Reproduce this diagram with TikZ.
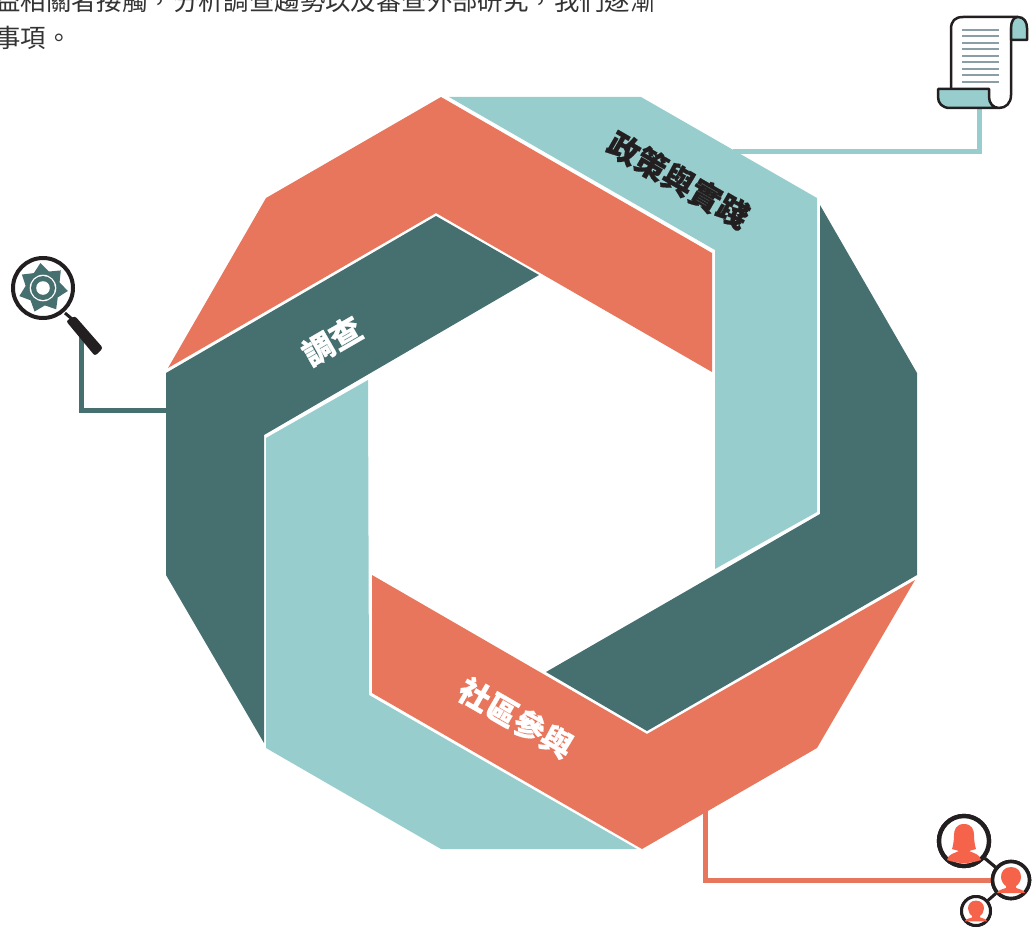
\documentclass[tikz,border=0pt]{standalone}
\usepackage{fontspec}
\usepackage{xcolor}
\newfontfamily\cjk[BoldFeatures={FakeBold=0.5}]{Noto Sans CJK TC}
\definecolor{slateband}{HTML}{466F70}
\definecolor{paleband}{HTML}{98CDCD}
\definecolor{coralband}{HTML}{E8765C}
\definecolor{coralicon}{HTML}{F4634A}
\definecolor{inkline}{HTML}{231F20}
\definecolor{rulegrey}{HTML}{8A9EA5}
\usetikzlibrary{positioning}
\tikzset{
    bodytext/.style={anchor=base west, inner sep=0pt, text=black!80, font=\cjk\fontsize{25.4}{30}\selectfont},
    bandlabel/.style={inner sep=0pt, font=\cjk\bfseries\fontsize{31.5}{34}\selectfont},
    feeder/.style={line width=5pt},
    ringnode/.style={circle, draw=inkline, fill=white, inner sep=0pt},
}
\newcommand{\headshape}{(0,-13) .. controls (7,-13) and (10,-8) .. (10,-3) .. controls (10,1) and (7,5) .. (5,6) -- (5,8) .. controls (8,9) and (13,10) .. (14,13) -- (-14,13) .. controls (-13,10) and (-8,9) .. (-5,8) -- (-5,6) .. controls (-7,5) and (-10,1) .. (-10,-3) .. controls (-10,-8) and (-7,-13) .. (0,-13) -- cycle}
\begin{document}
\begin{tikzpicture}[x=1pt, y=-1pt]
    \useasboundingbox (0,0) rectangle (1035,931);

    \node[bodytext] (lineone) at (-5,11) {益相關者接觸，分析調查趨勢以及審查外部研究，我們逐漸};
    \node[bodytext] (linetwo) at (-5,47.5) {事項。};

    % connectors go first, the bands and icons sit on top
    \coordinate (slatefoot) at (170,410);
    \coordinate (lenshook) at (81,335);
    \coordinate (palefoot) at (733,151);
    \coordinate (scrollhook) at (979,105);
    \coordinate (coralfoot) at (705,805);
    \node[ringnode, line width=3.6pt, minimum size=37pt] (midface) at (1011,880) {};
    \draw[feeder, slateband] (slatefoot) -| (lenshook);
    \draw[feeder, paleband] (palefoot) -| (scrollhook);
    \draw[feeder, coralband] (coralfoot) |- (midface);

    % bands
    \fill[coralband] (441,97) -- (712,253) -- (712,372) -- (436,213) -- (168,368) -- (266,198) -- cycle;
    \fill[paleband] (449,97) -- (641,97) -- (817,198) -- (817,512) -- (715,569) -- (715,250) -- cycle;
    \fill[slateband] (820,205) -- (917,373) -- (917,575) -- (647,731) -- (546,672) -- (820,514) -- cycle;
    \fill[coralband] (372,575) -- (647,734) -- (915,580) -- (817,748) -- (642,849) -- (372,693) -- cycle;
    \fill[paleband] (266,438) -- (368,380) -- (369,695) -- (637,849) -- (441,849) -- (266,748) -- cycle;
    \fill[slateband] (166,373) -- (436,216) -- (539,275) -- (264,435) -- (264,743) -- (166,575) -- cycle;

    \node[bandlabel, rotate=-30, text=inkline] (policy) at (678.5,180) {政策與實踐};
    \node[bandlabel, rotate=30, text=white] (survey) at (332,341) {調查};
    \node[bandlabel, rotate=-30, text=white] (public) at (516,718) {社區參與};

    % magnifier
    \node[ringnode, line width=4pt, minimum size=60pt] (lens) at (43,288) {};
    \draw[inkline, line width=3pt] (lens) ++(22,25) -- (72,319);
    \fill[inkline, rounded corners=2.5pt] (66,321) -- (75,316) -- (103,348) -- (95,356) -- cycle;
    \begin{scope}[shift={(lens)}]
        \fill[slateband] (-96:25)
            \foreach \k in {0,...,6} { -- (-70.3+\k*51.43:17.5) -- (-44.6+\k*51.43:25) } -- cycle;
        \fill[white] (0,0) circle[radius=13.3];
        \fill[slateband] (0,0) circle[radius=12];
        \fill[white] (0,0) circle[radius=6.8];
    \end{scope}

    % scroll
    \fill[white] (951,89) -- (951,30) -- (1011,20) -- (1011,100) -- (990,108) -- cycle;
    \draw[inkline, line width=2.5pt, line join=round] (951,89) -- (951,29) .. controls (951,21) and (955,17) .. (963,17) -- (1018,17);
    \draw[inkline, line width=2.5pt] (1011,28) -- (1011,95) .. controls (1011,103) and (1006,108) .. (999,108);
    \foreach \k in {0,...,8}
        \draw[rulegrey, line width=2pt] (962,{30+\k*6.5}) -- (999,{30+\k*6.5});
    \draw[inkline, line width=2.5pt, fill=paleband, line join=round] (1011,40) -- (1011,28) .. controls (1011,21) and (1014,17) .. (1018,17) .. controls (1024,17) and (1027,22) .. (1027,28) -- (1027,40) -- cycle;
    \draw[inkline, line width=2.5pt, fill=paleband, line join=round] (938,89) -- (989,89) -- (989,97) .. controls (989,103) and (993,108) .. (999,108) -- (950,108) .. controls (942,108) and (938,103) .. (938,97) -- cycle;

    % people
    \node[ringnode, line width=4.4pt, minimum size=50pt] (bigface) at (964,841) {};
    \node[ringnode, line width=3pt, minimum size=29pt] (smallface) at (976,911) {};
    \draw[inkline, line width=3.2pt] (bigface) -- (midface);
    \draw[inkline, line width=3pt] (midface) -- (smallface);
    \node[ringnode, line width=4.4pt, minimum size=50pt] at (bigface) {};
    \node[ringnode, line width=3.6pt, minimum size=37pt] at (midface) {};
    \node[ringnode, line width=3pt, minimum size=29pt] at (smallface) {};
    \begin{scope}[shift={(bigface)}]
        \fill[coralicon] (0,-17) .. controls (8,-17) and (10,-11) .. (10,-6) .. controls (10,0) and (11,5) .. (12,8) -- (5,10) .. controls (9,12) and (16,13) .. (17,19) .. controls (6,23) and (-6,23) .. (-17,19) .. controls (-16,13) and (-9,12) .. (-5,10) -- (-12,8) .. controls (-11,5) and (-10,0) .. (-10,-6) .. controls (-10,-11) and (-8,-17) .. (0,-17) -- cycle;
    \end{scope}
    \begin{scope}[shift={(midface)}]
        \fill[coralicon] \headshape;
    \end{scope}
    \begin{scope}[shift={(smallface)}, scale=0.8]
        \fill[coralicon] \headshape;
    \end{scope}
\end{tikzpicture}
\end{document}
